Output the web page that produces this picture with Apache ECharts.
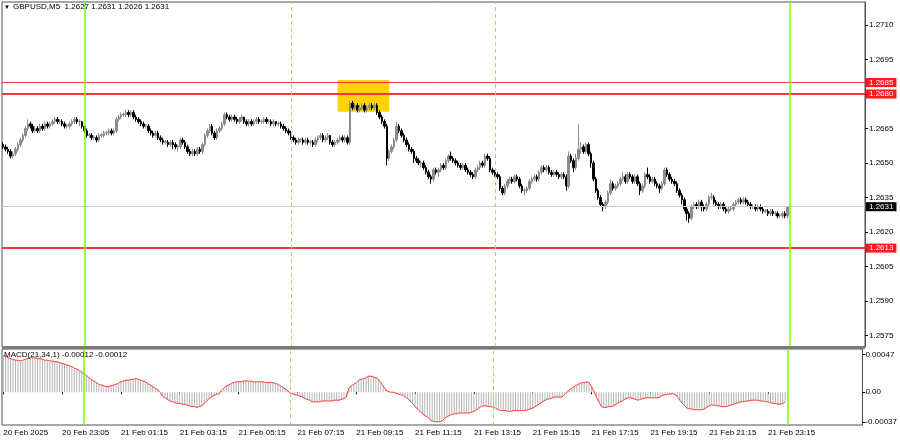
<!DOCTYPE html>
<html>
<head>
<meta charset="utf-8">
<script src="https://cdn.jsdelivr.net/npm/echarts@6/dist/echarts.min.js"></script>
<style>html,body{margin:0;padding:0;background:#fff}#c{width:900px;height:441px}</style>
</head>
<body>
<div id="c"></div>
<script>
// ---- DATA (prices in pips above BASE) ----
const BASE = 1.26;
// [open, close, low, high] per M5 bar, in pips above 1.2600
const ohlcPips = [
[58,57,56,59],[57,56,55,58],[56,55,54,57],[55,53,52,56],[53,54,52,55],[54,56,53,57],[56,58,55,59],[58,60,57,61],[60,62,59,63],[62,65,61,66],
[65,67,64,69],[67,66,65,68],[66,64,63,67],[64,65,63,66],[65,64,63,66],[64,66,63,67],[66,65,64,67],[65,67,64,68],[67,66,65,68],[66,67,65,68],
[67,68,66,69],[68,69,67,70],[69,68,67,70],[68,68.3,67,69],[68,67,66,69],[67,66,65,68],[66,66.3,65,67],[66,67,65,68],[67,68,66,69],[68,69,67,70],
[69,68,67,70],[68,68.3,66,69],[68,66,65,68],[66,64,63,66],[64,62,61,65],[62,62.3,61,63],[62,61,60,63],[61,61.3,60,62],[61,60,59,62],[60,62,59,63],
[62,62.3,61,63],[62,63,61,64],[63,63.3,62,64],[63,64,62,65],[64,63,62,65],[63,64,62,65],[64,69,63,70],[69,70,68,71],[70,71,69,72],[71,71.3,70,72],
[71,72,70,73],[72,71,70,73],[71,72,70,73],[72,70,69,73],[70,69,68,71],[69,68,67,70],[68,67,66,69],[67,66,65,68],[66,66.3,65,67],[66,64,63,67],
[64,63,62,65],[63,62,61,64],[62,63,61,64],[63,61,60,64],[61,60,59,62],[60,59,58,61],[59,59.3,58,60],[59,58,57,60],[58,59,57,60],[59,58,56,60],
[58,57,56,59],[57,57.3,55,58],[57,60,56,61],[60,59,58,61],[59,57,56,60],[57,55,54,58],[55,54,53,56],[54,55,53,56],[55,54,53,56],[54,56,53,57],
[56,55,54,57],[55,58,54,59],[58,62,57,63],[62,64,61,65],[64,66,63,67],[66,63,62,67],[63,61,60,64],[61,64,60,65],[64,65,63,66],[65,67,64,68],
[67,71,66,72],[71,70,69,72],[70,69,68,71],[69,70,68,71],[70,69,68,71],[69,68,67,70],[68,69,67,70],[69,70,68,71],[70,68,67,70],[68,67,66,69],
[67,68,66,69],[68,67,66,69],[67,68,66,69],[68,69,67,70],[69,68,67,70],[68,68.3,67,69],[68,69,67,70],[69,68,67,70],[68,68.3,67,69],[68,67,66,69],
[67,68,66,69],[68,67,66,68],[67,67.3,66,68],[67,66,65,68],[66,65,64,67],[65,64,63,66],[64,63,62,65],[63,61,60,64],[61,60,59,62],[60,59,58,61],
[59,60,58,61],[60,60.3,59,61],[60,59,58,61],[59,60,58,61],[60,59,58,61],[59,59.3,58,60],[59,58,57,60],[58,60,57,61],[60,61,59,62],[61,62,60,63],
[62,60,59,63],[60,61,59,62],[61,62,60,63],[62,59,58,62],[59,58,57,60],[58,59,57,60],[59,60,58,61],[60,61,59,62],[61,60,59,62],[60,61,59,62],
[61,59,58,62],[59,76,58,77],[76,74,73,77],[74,75,73,76],[75,73,72,76],[73,74,72,75],[74,75,73,76],[75,73,72,76],[73,74,72,75],[74,75,73,76],
[75,74,73,76],[74,75,73,76],[75,72,71,76],[72,70,69,73],[70,68,67,71],[68,66,65,69],[66,52,49,67],[52,55,51,56],[55,57,54,58],[57,60,56,61],
[60,66,59,68],[66,64,63,67],[64,62,61,65],[62,60,59,63],[60,58,57,61],[58,56,55,59],[56,55,54,57],[55,52,50,56],[52,51,50,53],[51,50,49,52],
[50,50.3,48,51],[50,48,47,51],[48,46,45,49],[46,44,43,47],[44,43,41,45],[43,47,42,48],[47,46,45,48],[46,47,44,48],[47,49,46,50],[49,48,47,50],
[48,51,47,52],[51,53,50,54],[53,52,51,55],[52,51,50,53],[51,50,49,52],[50,49,48,51],[49,48,47,50],[48,49,47,50],[49,47,46,50],[47,46,45,48],
[46,45,44,47],[45,44,43,46],[44,47,43,48],[47,48,46,49],[48,50,47,51],[50,49,48,51],[49,53,48,54],[53,52,51,54],[52,47,46,53],[47,46,45,48],
[46,45,44,47],[45,44,43,46],[44,39,38,45],[39,37,36,40],[37,40,36,41],[40,42,39,43],[42,43,41,44],[43,42,41,44],[42,44,41,45],[44,43,42,45],
[43,40,39,44],[40,38,37,41],[38,38.3,36,39],[38,39,37,40],[39,42,38,43],[42,43,41,44],[43,44,42,45],[44,43,42,45],[43,46,42,47],[46,48,45,49],
[48,47,46,49],[47,48,46,49],[48,46,45,49],[46,45,44,47],[45,46,44,47],[46,45,44,47],[45,44,43,46],[44,45,43,46],[45,44,43,46],[44,40,38,45],
[40,53,39,55],[53,51,50,54],[51,48,46,52],[48,52,47,54],[52,56,51,67],[56,57,54,59],[57,55,54,58],[55,58,54,59],[58,54,53,59],[54,50,48,55],
[50,43,42,51],[43,38,37,44],[38,35,34,39],[35,32,31,36],[32,31,29,33],[31,33,30,34],[33,37,32,38],[37,41,36,43],[41,39,38,42],[39,40,38,41],
[40,41,39,42],[41,43,40,44],[43,44,42,46],[44,42,41,45],[42,45,41,46],[45,44,43,46],[44,42,41,45],[42,44,41,45],[44,41,40,45],[41,38,36,42],
[38,40,37,41],[40,45,39,46],[45,44,43,48],[44,42,41,45],[42,43,41,44],[43,41,40,44],[41,40,39,42],[40,39,37,41],[39,41,38,42],[41,47,40,48],
[47,45,44,48],[45,43,42,46],[43,42,41,44],[42,41,40,43],[41,38,37,42],[38,36,35,39],[36,34,32,37],[34,30,29,35],[30,28,25,31],[28,26,24,29],
[26,31,25,32],[31,32,30,33],[32,31,30,33],[31,33,30,34],[33,31,29,34],[31,30,29,32],[30,32,29,33],[32,35,31,36],[35,35.3,34,37],[35,33,32,36],
[33,32,31,34],[32,31,30,33],[31,32,30,33],[32,30,29,33],[30,29,28,31],[29,30,28,31],[30,30.3,29,31],[30,32,29,33],[32,33,31,34],[33,34,32,35],
[34,33,32,35],[33,34,32,35],[34,33,32,35],[33,32,31,34],[32,31,30,33],[31,31.3,30,32],[31,30,29,32],[30,31,29,32],[31,30,29,32],[30,29,28,31],
[29,29.3,28,30],[29,28,27,30],[28,29,27,30],[29,28,27,30],[28,28.3,27,29],[28,27,26,29],[27,27.3,26,28],[27,28,26,29],[28,27,26,29],[27,31,26,31]
];
// MACD(21,34,1) main values per bar, in units of 0.00001
const macdE5 = [
46,45,43,42,41,40,40,39,40,41, 42,43,43,43,42,42,41,40,40,39,
39,38,38,37,36,35,34,33,32,30, 29,27,25,23,21,18,16,14,12,10,
9,8,7,7,8,9,10,11,13,14, 15,15,16,16,17,16,15,14,13,11,
9,7,5,3,0,-5,-7,-9,-11,-12, -13,-14,-14,-15,-15,-16,-17,-18,-18,-19,
-18,-17,-14,-11,-8,-6,-4,-3,-2,2, 5,8,9,11,12,13,13,13,14,14,
14,14,13,13,13,13,13,12,12,12, 12,11,10,8,6,4,2,-1,-2,-3,
-4,-5,-6,-8,-9,-10,-12,-12,-12,-12, -11,-11,-11,-11,-11,-10,-10,-10,-9,-8,
-6,5,8,10,12,15,16,17,18,20, 20,19,18,16,12,8,3,1,0,0,
-1,-2,-3,-4,-6,-8,-11,-14,-18,-21, -24,-27,-29,-31,-34,-36,-37,-37,-37,-36,
-33,-31,-29,-28,-27,-27,-26,-26,-26,-26, -26,-25,-24,-22,-20,-18,-17,-17,-18,-18,
-19,-20,-22,-23,-23,-23,-24,-24,-23,-23, -23,-23,-23,-23,-22,-21,-20,-18,-16,-14,
-12,-10,-9,-8,-7,-6,-6,-6,-6,-3, 0,3,5,7,9,11,12,12,13,12,
7,1,-6,-12,-18,-19,-19,-18,-18,-17, -15,-13,-12,-10,-8,-7,-7,-8,-9,-10,
-9,-8,-7,-7,-7,-7,-7,-7,-6,-4, -3,-3,-2,-2,-3,-5,-10,-14,-17,-20,
-21,-21,-22,-22,-22,-22,-21,-19,-17,-16, -16,-17,-17,-18,-18,-18,-17,-16,-15,-14,
-13,-12,-12,-11,-11,-10,-10,-10,-10,-11, -11,-12,-12,-13,-14,-14,-15,-15,-14,-12
];
const priceTicks = [1.2575,1.2590,1.2605,1.2620,1.2635,1.2650,1.2665,1.2695,1.2710];
const priceTickMarks = [1.2575,1.2590,1.2605,1.2620,1.2635,1.2650,1.2665,1.2680,1.2695,1.2710];
const macdTicks = [0.00047, 0, -0.00037];
const timeLabels = ["20 Feb 2025","20 Feb 23:05","21 Feb 01:15","21 Feb 03:15","21 Feb 05:15","21 Feb 07:15","21 Feb 09:15","21 Feb 11:15","21 Feb 13:15","21 Feb 15:15","21 Feb 17:15","21 Feb 19:15","21 Feb 21:15","21 Feb 23:15"];
const redLevels = [1.2685, 1.2680, 1.2613];
const currentPrice = 1.2631;
const dayLines = [33, 320];      // bar slots of day separators
const sessionLines = [117, 200]; // bar slots of dashed separators
const boxSlots = [136, 157];
const boxPrices = [1.26861, 1.26723];
const headerText = "GBPUSD,M5  1.2627 1.2631 1.2626 1.2631";
const macdText = "MACD(21,34,1) -0.00012 -0.00012";

// ---- BUILD ----
const nSlots = 351;
const slots = Array.from({length: nSlots}, (_, i) => String(i));
const candles = ohlcPips.map(b => b.map(v => +(BASE + v / 10000).toFixed(5)));
const macd = macdE5.map(v => +(v * 1e-5).toFixed(6));
const FONT = '"Liberation Sans", Arial, sans-serif';
const lastLabelSlot = (timeLabels.length - 1) * 24;

const vLines = [
  ...dayLines.map(x => ({xAxis: x, lineStyle: {color: '#7cfc00', width: 1.5, type: 'solid'}, label: {show: false}})),
  ...sessionLines.map(x => ({xAxis: x, lineStyle: {color: '#a8e070', width: 1, type: [4, 3]}, label: {show: false}}))
];
const redLabel = {show: true, position: 'end', distance: 1, color: '#fff', backgroundColor: '#ff1a1a',
  padding: [1, 3, 0, 3], fontSize: 8, fontFamily: FONT, formatter: p => Number(p.value).toFixed(4)};

const chart = echarts.init(document.getElementById('c'), null, {renderer: 'canvas'});
chart.setOption({
  animation: false,
  backgroundColor: '#fff',
  grid: [
    {left: 2, right: 35, top: 2, height: 345, show: true, borderColor: '#505050', borderWidth: 1},
    {left: 2, right: 35, top: 349, height: 76, show: true, borderColor: '#505050', borderWidth: 1}
  ],
  xAxis: [
    {type: 'category', gridIndex: 0, data: slots, boundaryGap: true, show: false},
    {type: 'category', gridIndex: 1, data: slots, boundaryGap: true,
      axisLine: {show: false},
      axisTick: {show: true, interval: (i) => i % 24 === 0 && i <= lastLabelSlot, length: 2, alignWithLabel: true, lineStyle: {color: '#000'}},
      axisLabel: {show: true, interval: (i) => i % 24 === 0 && i <= lastLabelSlot, align: 'left', margin: 4, fontSize: 8, color: '#000', fontFamily: FONT,
        formatter: (v, i) => timeLabels[Math.round(i / 24)] || ''}}
  ],
  yAxis: [
    {type: 'value', gridIndex: 0, position: 'right', min: 1.2570, max: 1.2720, scale: true,
      axisLine: {show: true, lineStyle: {color: '#505050'}},
      splitLine: {show: false},
      axisTick: {show: true, length: 3, customValues: priceTickMarks, lineStyle: {color: '#000'}},
      axisLabel: {show: true, customValues: priceTicks, margin: 4, fontSize: 8, color: '#000', fontFamily: FONT,
        formatter: v => v.toFixed(4)}},
    {type: 'value', gridIndex: 1, position: 'right', min: -0.00041, max: 0.00054,
      axisLine: {show: true, lineStyle: {color: '#505050'}},
      splitLine: {show: false},
      axisTick: {show: true, length: 3, customValues: macdTicks, lineStyle: {color: '#000'}},
      axisLabel: {show: true, customValues: macdTicks, margin: 3, fontSize: 8, color: '#000', fontFamily: FONT,
        formatter: v => Math.abs(v) < 1e-9 ? '0.00' : v.toFixed(5)}}
  ],
  series: [
    {type: 'line', xAxisIndex: 0, yAxisIndex: 0, data: [], z: 1, silent: true,
      markArea: {silent: true, itemStyle: {color: '#ffd400', opacity: 1},
        data: [[{xAxis: boxSlots[0], yAxis: boxPrices[0]}, {xAxis: boxSlots[1], yAxis: boxPrices[1]}]]}},
    {type: 'candlestick', xAxisIndex: 0, yAxisIndex: 0, data: candles, z: 3, barWidth: 2,
      itemStyle: {color: '#8c8c8c', color0: '#000', borderColor: '#8c8c8c', borderColor0: '#000', borderWidth: 1},
      markLine: {silent: true, symbol: 'none', animation: false, precision: 5,
        data: [
          {yAxis: redLevels[0], lineStyle: {color: '#f03a3a', width: 1, type: 'solid'}, label: redLabel},
          {yAxis: redLevels[1], lineStyle: {color: '#f03a3a', width: 2, type: 'solid'}, label: redLabel},
          {yAxis: redLevels[2], lineStyle: {color: '#f03a3a', width: 2, type: 'solid'}, label: redLabel},
          {yAxis: currentPrice, lineStyle: {color: '#c8c8c8', width: 1, type: 'solid'},
            label: Object.assign({}, redLabel, {backgroundColor: '#000'})},
          ...vLines
        ]}},
    {type: 'bar', xAxisIndex: 1, yAxisIndex: 1, data: macd, barWidth: 1, z: 2,
      itemStyle: {color: '#b4b4b4'}, silent: true,
      markLine: {silent: true, symbol: 'none', animation: false, data: vLines}},
    {type: 'line', xAxisIndex: 1, yAxisIndex: 1, data: macd, showSymbol: false, symbol: 'none', z: 3,
      lineStyle: {color: '#ff3a3a', width: 1}, silent: true}
  ],
  graphic: [
    {type: 'rect', left: 2, top: 346, shape: {width: 863, height: 3}, style: {fill: '#7a7a7a'}, z: 10},
    {type: 'text', left: 4, top: 4, style: {text: '▼', font: '6px ' + FONT, fill: '#000'}, z: 10},
    {type: 'text', left: 13, top: 3, style: {text: headerText, font: '8px ' + FONT, fill: '#000'}, z: 10},
    {type: 'text', left: 4, top: 351, style: {text: macdText, font: '8px ' + FONT, fill: '#000'}, z: 10}
  ]
});
</script>
</body>
</html>
